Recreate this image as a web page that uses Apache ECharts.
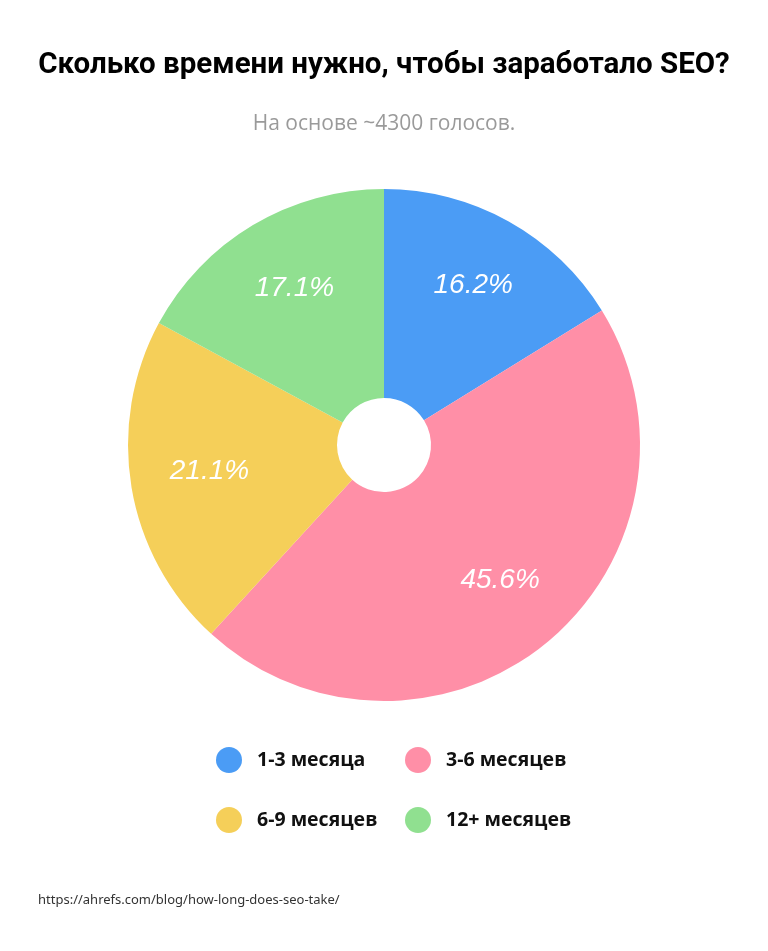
<!DOCTYPE html>
<html><head><meta charset="utf-8">
<script src="https://cdn.jsdelivr.net/npm/echarts@6/dist/echarts.min.js"></script>
<style>html,body{margin:0;padding:0;background:#fff}#c{width:768px;height:951px}</style>
</head><body><div id="c"></div>
<script>
const categories = ['1-3 месяца', '3-6 месяцев', '6-9 месяцев', '12+ месяцев'];
const values = [16.2, 45.6, 21.1, 17.1];
const colors = ['#4B9CF5', '#FF8FA7', '#F5CF59', '#90E090'];
const titleText = 'Сколько времени нужно, чтобы заработало SEO?';
const subtitleText = 'На основе ~4300 голосов.';
const sourceText = 'https://ahrefs.com/blog/how-long-does-seo-take/';

const data = categories.map((n, i) => ({ name: n, value: values[i], itemStyle: { color: colors[i] } }));
const legendPos = [[211, 742], [400, 742], [211, 802], [400, 802]];

const chart = echarts.init(document.getElementById('c'));
chart.setOption({
  animation: false,
  title: [
    { text: titleText, left: 'center', top: 51, padding: 0,
      textStyle: { fontFamily: 'Roboto,sans-serif', fontWeight: 'bold', fontSize: 29.5, color: '#000' } },
    { text: subtitleText, left: 'center', top: 114, padding: 0,
      textStyle: { fontFamily: '"Open Sans","Noto Sans",sans-serif', fontWeight: 'normal', fontSize: 21, color: '#9a9a9a' } },
    { text: sourceText, left: 38, top: 894, padding: 0,
      textStyle: { fontFamily: '"Noto Sans","Open Sans",sans-serif', fontWeight: 'normal', fontSize: 13, color: '#333' } }
  ],
  legend: categories.map((n, i) => ({
    data: [n], left: legendPos[i][0], top: legendPos[i][1], icon: 'circle',
    itemWidth: 26, itemHeight: 26, selectedMode: false,
    textStyle: { fontFamily: '"Open Sans","Noto Sans",sans-serif', fontWeight: 'bold', fontSize: 19.5, color: '#111', padding: [0, 0, 0, 10] }
  })),
  series: [
    { type: 'pie', center: [384, 445], radius: [47, 256], startAngle: 90, clockwise: true,
      silent: true, label: { show: false }, labelLine: { show: false }, data: data },
    { type: 'pie', center: [386, 442], radius: [96, 256], startAngle: 90, clockwise: true,
      silent: true, itemStyle: { color: 'transparent' },
      label: { show: true, position: 'inside', formatter: p => p.value.toFixed(1) + '%',
        color: '#fff', fontStyle: 'italic', fontSize: 28, fontFamily: '"Liberation Sans",Arial,sans-serif' },
      labelLine: { show: false },
      data: categories.map((n, i) => ({ name: n, value: values[i] })) }
  ]
});
</script></body></html>
